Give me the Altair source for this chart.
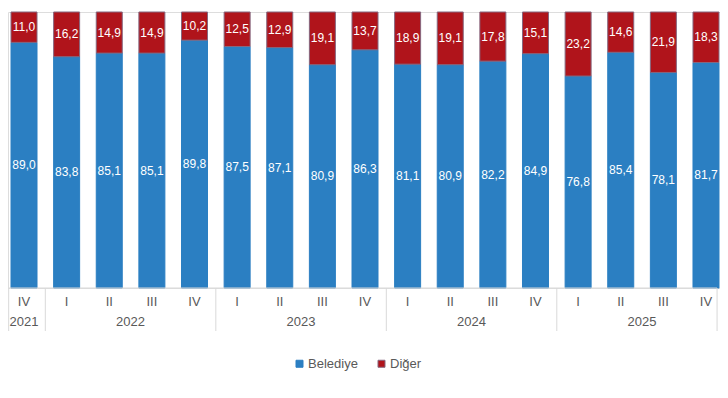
import altair as alt
import pandas as pd

quarters = ["IV", "I", "II", "III", "IV", "I", "II", "III", "IV",
            "I", "II", "III", "IV", "I", "II", "III", "IV"]
years = ["2021", "2022", "2022", "2022", "2022", "2023", "2023", "2023", "2023",
         "2024", "2024", "2024", "2024", "2025", "2025", "2025", "2025"]
belediye = [89.0, 83.8, 85.1, 85.1, 89.8, 87.5, 87.1, 80.9, 86.3,
            81.1, 80.9, 82.2, 84.9, 76.8, 85.4, 78.1, 81.7]
diger = [11.0, 16.2, 14.9, 14.9, 10.2, 12.5, 12.9, 19.1, 13.7,
         18.9, 19.1, 17.8, 15.1, 23.2, 14.6, 21.9, 18.3]
series_names = ["Belediye", "Diğer"]
series_colors = ["#2b7fc2", "#b0141b"]
series_strokes = ["#2b7fc2", "#85677f"]

FONT = "Liberation Sans"
GRAY = "#595959"
LINE = "#d9d9d9"

rows = []
for i, (q, y, b, d) in enumerate(zip(quarters, years, belediye, diger)):
    rows.append({"idx": i, "quarter": q, "year": y, "series": series_names[0], "value": b, "order": 0})
    rows.append({"idx": i, "quarter": q, "year": y, "series": series_names[1], "value": d, "order": 1})
df = pd.DataFrame(rows)

qdf = pd.DataFrame({"idx": list(range(len(quarters))), "quarter": quarters, "year": years})

# group boundaries (between years) plus the two outer edge lines
n = len(quarters)
bounds = [-0.36]
for i in range(1, n):
    if years[i] != years[i - 1]:
        bounds.append(i - 0.5)
bounds.append(n - 1 + 0.26)
sep_df = pd.DataFrame({"pos": bounds})
axis_df = pd.DataFrame({"x0": [bounds[0]], "x1": [bounds[-1]]})

xs = alt.Scale(domain=[-0.5, n - 0.5], range=[-5.3, 719.3], nice=False, zero=False, padding=0)
ys = alt.Scale(domain=[0, 1], nice=False, padding=0)

bars = alt.Chart(df).mark_bar(size=26, strokeWidth=1).encode(
    x=alt.X("idx:Q", scale=xs, axis=None),
    y=alt.Y("value:Q", stack="normalize", scale=ys, axis=None),
    color=alt.Color(
        "series:N",
        scale=alt.Scale(domain=series_names, range=series_colors),
        legend=alt.Legend(
            title=None, orient="none", legendX=285, legendY=345,
            direction="horizontal", symbolType="square", symbolSize=49,
            labelFont=FONT, labelFontSize=13, labelColor=GRAY,
            labelOffset=2, columnPadding=17, symbolStrokeWidth=1,
        ),
    ),
    stroke=alt.Stroke("series:N", scale=alt.Scale(domain=series_names, range=series_strokes), legend=None),
    order=alt.Order("order:Q"),
)

labels = alt.Chart(df).transform_stack(
    stack="value", groupby=["idx"], as_=["y0", "y1"],
    sort=[alt.SortField("order")], offset="normalize",
).transform_calculate(
    mid="(datum.y0 + datum.y1) / 2",
    lbl="replace(format(datum.value, '.1f'), '.', ',')",
).mark_text(color="white", font=FONT, fontSize=12, baseline="middle").encode(
    x=alt.X("idx:Q", scale=xs),
    y=alt.Y("mid:Q", scale=ys),
    text="lbl:N",
)

axis_line = alt.Chart(axis_df).mark_rule(color=LINE, strokeWidth=1).encode(
    x=alt.X("x0:Q", scale=xs), x2="x1:Q", y=alt.value(276)
)

seps = alt.Chart(sep_df).mark_rule(color=LINE, strokeWidth=1).encode(
    x=alt.X("pos:Q", scale=xs), y=alt.value(276), y2=alt.value(319)
)

qlabels = alt.Chart(qdf).mark_text(font=FONT, fontSize=13, color=GRAY, baseline="middle").encode(
    x=alt.X("idx:Q", scale=xs), y=alt.value(290), text="quarter:N"
)

ylabels = alt.Chart(qdf).mark_text(font=FONT, fontSize=13, color=GRAY, baseline="middle").encode(
    x=alt.X("mean(idx):Q", scale=xs), y=alt.value(310), text="year:N"
)

chart = alt.layer(bars, labels, axis_line, seps, qlabels, ylabels).properties(
    width=712, height=276,
    padding={"left": 0, "top": 4, "right": 0, "bottom": 86},
    autosize=alt.AutoSizeParams(type="none"),
).configure_view(stroke=None).configure(font=FONT)

chart.save("out.html", embed_options={"renderer": "svg", "actions": False})
